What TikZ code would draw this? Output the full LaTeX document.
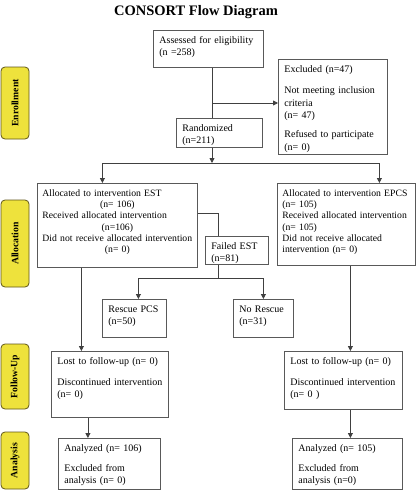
\documentclass[tikz,border=0pt]{standalone}
\usepackage{fontspec}
\setmainfont{Liberation Serif}
\usetikzlibrary{arrows.meta,positioning}
\definecolor{sidefill}{RGB}{238,226,60}
\definecolor{sideedge}{RGB}{95,85,25}
\newcommand{\ctrline}[1]{\makebox[\linewidth]{#1}}

\begin{document}
\begin{tikzpicture}
  [x=1pt,y=-1pt,
   box/.style={draw=black!65,line width=0.8pt,anchor=north west,align=left,
     inner xsep=6pt,inner ysep=4pt,text height=9pt,font=\fontsize{10}{12}\selectfont},
   side/.style={draw=sideedge,fill=sidefill,line width=0.8pt,rounded corners=4pt,
     rotate=90,minimum height=28pt,inner sep=0pt,font=\bfseries\fontsize{9.7}{11}\selectfont},
   link/.style={draw=black!75,line width=0.8pt},
   arr/.style={-{Triangle[length=5pt,width=5pt]}}]
  \useasboundingbox (0,0) rectangle (417,490);

  \node[anchor=base,font=\bfseries\fontsize{14.5}{17}\selectfont] (title) at (196,15.5) {CONSORT Flow Diagram};

  % phase labels
  \node[side,minimum width=72pt] (enroll) at (15,103) {Enrollment};
  \node[side,minimum width=87pt] (alloc) at (15,243.5) {Allocation};
  \node[side,minimum width=65pt] (follow) at (15,376.5) {Follow-Up};
  \node[side,minimum width=57pt] (analys) at (15,460.5) {Analysis};

  % boxes
  \node[box,text width=98pt,text depth=20pt] (assess) at (153,30) {Assessed for eligibility\\(n =258)};
  \node[box,text width=97pt,text depth=78pt,font=\fontsize{10}{12.8}\selectfont] (excl) at (278,59)
    {Excluded (n=47)\\[8pt]Not meeting inclusion\\criteria\\(n= 47)\\[6pt]Refused to participate\\(n= 0)};
  \node[box,text width=74pt,text depth=12pt] (rand) at (176,118) {Randomized\\(n=211)};

  \node[box,text width=150pt,inner xsep=5pt,text depth=67pt,font=\fontsize{9.7}{11.2}\selectfont] (allocL) at (37,183)
    {Allocated to intervention EST\\\ctrline{(n= 106)}\\Received allocated intervention\\\ctrline{(n=106)}\\Did not receive allocated intervention\\\ctrline{(n= 0)}};
  \node[box,text width=128pt,inner xsep=5pt,text depth=65pt,font=\fontsize{9.7}{11.2}\selectfont] (allocR) at (277,183)
    {Allocated to intervention EPCS\\(n= 105)\\Received allocated intervention\\(n= 105)\\Did not receive allocated\\intervention (n= 0)};

  \node[box,text width=51pt,text depth=11pt] (fest) at (205,236) {Failed EST\\(n=81)};
  \node[box,text width=52pt,text depth=21pt] (rescue) at (102,299) {Rescue PCS\\(n=50)};
  \node[box,text width=48pt,text depth=21pt] (norescue) at (233,299) {No Rescue\\(n=31)};

  \node[box,text width=105pt,text depth=49pt] (fuL) at (51,351)
    {Lost to follow-up (n= 0)\\[9pt]Discontinued intervention\\(n= 0)};
  \node[box,text width=106pt,text depth=41pt] (fuR) at (284,351)
    {Lost to follow-up (n= 0)\\[9pt]Discontinued intervention\\(n= 0 )};

  \node[box,text width=90pt,text depth=34pt] (anL) at (58,438)
    {Analyzed (n= 106)\\[8pt]Excluded from\\analysis (n= 0)};
  \node[box,text width=98pt,text depth=34pt] (anR) at (292,438)
    {Analyzed (n= 105)\\[8pt]Excluded from\\analysis (n=0)};

  % connectors
  \coordinate (split) at (212,103);
  \coordinate (fork) at (212,163);
  \coordinate (fork2) at (218,278);

  \draw[link] (assess.south -| split) -- (rand.north -| split);
  \draw[link,arr] (split) -- (split -| excl.west);
  \draw[link,arr] (rand.south -| fork) -- (fork);
  \draw[link,arr] (fork) -| ([xshift=-15pt]allocL.north);
  \draw[link,arr] (fork) -| ([xshift=33pt]allocR.north);

  \draw[link] ([yshift=12pt]allocL.east) -| (fork2 |- fest.north);
  \draw[link] (fest.south -| fork2) -- (fork2);
  \draw[link,arr] (fork2) -| ([xshift=4pt]rescue.north);
  \draw[link,arr] (fork2) -| (norescue.north);

  \draw[link,arr] ([xshift=-36pt]allocL.south) -- ([xshift=-36pt]allocL.south |- fuL.north);
  \draw[link,arr] ([xshift=4pt]allocR.south) -- ([xshift=4pt]allocR.south |- fuR.north);
  \draw[link,arr] ([xshift=-22pt]fuL.south) -- ([xshift=-22pt]fuL.south |- anL.north);
  \draw[link,arr] ([xshift=7pt]fuR.south) -- ([xshift=7pt]fuR.south |- anR.north);
\end{tikzpicture}
\end{document}
